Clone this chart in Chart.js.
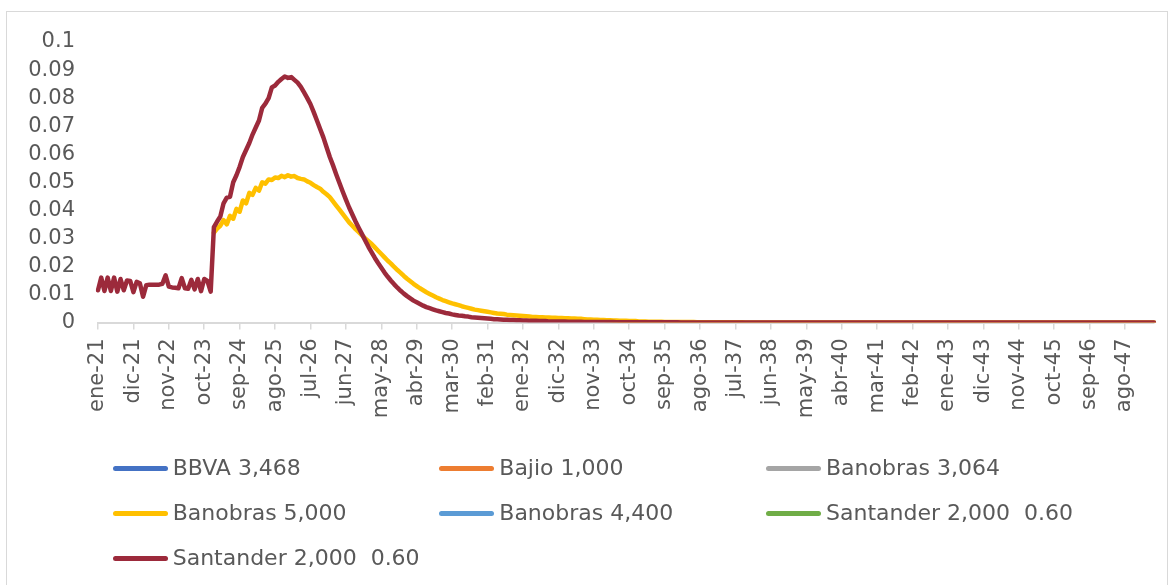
<!DOCTYPE html>
<html>
<head>
<meta charset="utf-8">
<script src="https://cdn.jsdelivr.net/npm/chart.js@4.4.1/dist/chart.umd.min.js"></script>
<style>
  html, body { margin: 0; padding: 0; background: #ffffff; }
  #wrap { position: relative; width: 1175px; height: 585px; overflow: hidden; background: #fff; }
  #frame { position: absolute; left: 6px; top: 11px; width: 1162px; height: 620px; border: 1.5px solid #d9d9d9; box-sizing: border-box; }
  #c { position: absolute; left: 0; top: 0; }
  .lg-item { position: absolute; height: 30px; display: flex; align-items: center; white-space: pre;
             font-family: "DejaVu Sans", sans-serif; font-size: 22px; color: #595959; line-height: 30px; }
  .lg-swatch { display: inline-block; width: 55px; height: 5px; border-radius: 3px; margin-right: 5px; }
</style>
</head>
<body>
<div id="wrap">
  <div id="frame"></div>
  <canvas id="c" width="1175" height="585"></canvas>
</div>
<script>
// ---- Data ----
const MONTHS = ["ene","feb","mar","abr","may","jun","jul","ago","sep","oct","nov","dic"];
const START_YEAR = 21;
const N_POINTS = 329; // ene-21 .. may-48
const LABEL_EVERY = 11;

const SERIES_NAMES = ["BBVA 3,468","Bajio 1,000","Banobras 3,064","Banobras 5,000","Banobras 4,400","Santander 2,000  0.60","Santander 2,000  0.60"];
const SERIES_COLORS = ["#4472C4","#ED7D31","#A5A5A5","#FFC000","#5B9BD5","#70AD47","#9C2A3B"];

const bbva = [];
const bajio = [];
const banobras3064 = [];
const banobras4400 = [];
const santanderGreen = [];

const banobras5000 = [
null,null,null,null,null,null,null,null,null,null,
null,null,null,null,null,null,null,null,null,null,
null,null,null,null,null,null,null,null,null,null,
null,null,null,null,null,null,0.032,0.0335,0.0345,0.0365,
0.035,0.038,0.037,0.0405,0.0395,0.0435,0.0425,0.0462,0.0455,0.048,
0.047,0.050,0.0495,0.051,0.0508,0.0517,0.0515,0.0523,0.0518,0.0525,
0.052,0.0522,0.0515,0.0512,0.051,0.0503,0.0498,0.049,0.0483,0.0477,
0.0466,0.0457,0.0447,0.0432,0.0417,0.0402,0.0387,0.0372,0.0357,0.0345,
0.0333,0.0322,0.0311,0.030,0.029,0.028,0.0268,0.0256,0.0244,0.0232,
0.022,0.021,0.0198,0.0187,0.0177,0.0166,0.0156,0.0147,0.0138,0.013,
0.0122,0.0115,0.0108,0.0102,0.0096,0.009,0.0085,0.008,0.0076,0.0072,
0.0068,0.0065,0.0062,0.0058,0.0055,0.0052,0.0049,0.0046,0.0044,0.0042,
0.004,0.0038,0.0036,0.0034,0.0032,0.0031,0.003,0.0028,0.0027,0.0026,
0.0025,0.0024,0.0023,0.0022,0.0021,0.002,0.002,0.0019,0.0019,0.0018,
0.0018,0.0017,0.0017,0.0016,0.0016,0.0015,0.0015,0.0014,0.0014,0.0013,
0.0013,0.0012,0.0011,0.0011,0.001,0.001,0.0009,0.0009,0.0008,0.0008,
0.0007,0.0007,0.0006,0.0006,0.0006,0.0005,0.0005,0.0005,0.0004,0.0004,
0.0004,0.0003,0.0003,0.0003,0.0003,0.0003,0.0002,0.0002,0.0002,0.0002,
0.0002,0.0002,0.0002,0.0002,0.0002,0.0002,0.0001,0.0001,0.0001,0.0001,
0.0001,0.0001,0.0001,0.0001,0.0001,0.0001,0.0001,0.0001,0.0001,0.0001,
0.0001,0,0,0,0,0,0,0,0,0,
0,0,0,0,0,0,0,0,0,0,
0,0,0,0,0,0,0,0,0,0,
0,0,0,0,0,0,0,0,0,0,
0,0,0,0,0,0,0,0,0,0,
0,0,0,0,0,0,0,0,0,0,
0,0,0,0,0,0,0,0,0,0,
0,0,0,0,0,0,0,0,0,0,
0,0,0,0,0,0,0,0,0,0,
0,0,0,0,0,0,0,0,0,0,
0,0,0,0,0,0,0,0,0,0,
0,0,0,0,0,0,0,0,0,0,
0,0,0,0,0,0,0,0,0
];

const santanderRed = [
0.0115,0.016,0.0112,0.016,0.0112,0.016,0.011,0.0155,0.0115,0.015,
0.0148,0.0108,0.0145,0.014,0.0092,0.0133,0.0135,0.0135,0.0135,0.0135,
0.0138,0.0168,0.0128,0.0125,0.0124,0.0122,0.0158,0.0122,0.012,0.0152,
0.0118,0.0155,0.0112,0.0155,0.0148,0.011,0.034,0.036,0.0378,0.0425,
0.0445,0.0448,0.050,0.0525,0.0555,0.059,0.0615,0.064,0.067,0.0695,
0.072,0.0765,0.078,0.080,0.0838,0.0845,0.0858,0.0868,0.0877,0.0872,
0.0875,0.0865,0.0855,0.084,0.082,0.080,0.0778,0.075,0.072,0.069,
0.066,0.0625,0.059,0.056,0.0528,0.0497,0.0467,0.0438,0.041,0.0385,
0.036,0.0337,0.0315,0.0292,0.027,0.025,0.023,0.0212,0.0195,0.0178,
0.0163,0.0149,0.0136,0.0124,0.0113,0.0103,0.0094,0.0086,0.0078,0.0072,
0.0066,0.006,0.0055,0.0051,0.0047,0.0043,0.004,0.0037,0.0034,0.0032,
0.0029,0.0027,0.0025,0.0024,0.0022,0.0021,0.0019,0.0018,0.0017,0.0016,
0.0015,0.0014,0.0013,0.0012,0.0012,0.0011,0.001,0.001,0.0009,0.0009,
0.0008,0.0008,0.0007,0.0007,0.0006,0.0006,0.0006,0.0005,0.0005,0.0005,
0.0004,0.0004,0.0004,0.0004,0.0004,0.0004,0.0003,0.0003,0.0003,0.0003,
0.0003,0.0002,0.0002,0.0002,0.0002,0.0002,0.0002,0.0002,0.0002,0.0002,
0.0002,0.0001,0.0001,0.0001,0.0001,0.0001,0.0001,0.0001,0.0001,0.0001,
0.0001,0.0001,0.0001,0.0001,0.0001,0.0001,0.0001,0.0001,0.0001,0.0001,
0.0001,0,0,0,0,0,0,0,0,0,
0,0,0,0,0,0,0,0,0,0,
0,0,0,0,0,0,0,0,0,0,
0,0,0,0,0,0,0,0,0,0,
0,0,0,0,0,0,0,0,0,0,
0,0,0,0,0,0,0,0,0,0,
0,0,0,0,0,0,0,0,0,0,
0,0,0,0,0,0,0,0,0,0,
0,0,0,0,0,0,0,0,0,0,
0,0,0,0,0,0,0,0,0,0,
0,0,0,0,0,0,0,0,0,0,
0,0,0,0,0,0,0,0,0,0,
0,0,0,0,0,0,0,0,0,0,
0,0,0,0,0,0,0,0,0,0,
0,0,0,0,0,0,0,0,0
];

const Y_TICKS = [0,0.01,0.02,0.03,0.04,0.05,0.06,0.07,0.08,0.09,0.1];

// category labels (months)
const categories = [];
for (let i = 0; i < N_POINTS; i++) {
  const m = i % 12, y = START_YEAR + Math.floor(i / 12);
  categories.push(MONTHS[m] + "-" + y);
}

const SERIES_DATA = [bbva, bajio, banobras3064, banobras5000, banobras4400, santanderGreen, santanderRed];

// ---- Chart ----
const FONT = '"DejaVu Sans", sans-serif';
const TEXT = '#595959';
const AXIS = '#d9d9d9';

const datasets = SERIES_NAMES.map((name, i) => ({
  label: name,
  data: SERIES_DATA[i],
  borderColor: SERIES_COLORS[i],
  backgroundColor: SERIES_COLORS[i],
  borderWidth: 4.5,
  pointRadius: 0,
  pointHoverRadius: 0,
  tension: 0,
  fill: false,
  spanGaps: false,
  borderCapStyle: 'round',
  borderJoinStyle: 'round',
  order: i === 6 ? 0 : (10 - i)
}));

const chart = new Chart(document.getElementById('c'), {
  type: 'line',
  data: { labels: categories, datasets },
  options: {
    responsive: false,
    animation: false,
    devicePixelRatio: 1,
    layout: { padding: { left: 0, right: 21, top: 42, bottom: 0 } },
    plugins: { legend: { display: false }, tooltip: { enabled: false } },
    scales: {
      x: {
        type: 'category',
        offset: false,
        afterFit: s => { s.height = 585 - 322.5; s.paddingRight = 0; s.paddingLeft = 0; },
        border: { display: true, color: AXIS, width: 2 },
        grid: {
          drawOnChartArea: false,
          drawTicks: true,
          tickLength: 7,
          lineWidth: 1.5,
          color: ctx => (ctx.index % LABEL_EVERY === 0 ? AXIS : 'rgba(0,0,0,0)')
        },
        ticks: {
          autoSkip: false,
          maxRotation: 90,
          minRotation: 90,
          padding: 9,
          color: TEXT,
          font: { family: FONT, size: 21 },
          callback: (v, idx) => (idx % LABEL_EVERY === 0 ? categories[idx] : '')
        }
      },
      y: {
        min: 0,
        max: 0.1,
        afterFit: s => { s.width = 98; },
        afterBuildTicks: s => { s.ticks = Y_TICKS.map(v => ({ value: v })); },
        border: { display: false },
        grid: { display: false, drawTicks: false },
        ticks: {
          autoSkip: false,
          padding: 23,
          color: TEXT,
          font: { family: FONT, size: 21 },
          callback: v => String(+(+v).toFixed(2))
        }
      }
    }
  }
});

// ---- HTML legend (3-column grid like the original) ----
const wrap = document.getElementById('wrap');
const COLS_X = [112.7, 439.3, 766];
const ROWS_Y = [468.3, 513.3, 558.3];
chart.data.datasets.forEach((ds, i) => {
  const item = document.createElement('div');
  item.className = 'lg-item';
  item.style.left = COLS_X[i % 3] + 'px';
  item.style.top = (ROWS_Y[Math.floor(i / 3)] - 15) + 'px';
  const sw = document.createElement('span');
  sw.className = 'lg-swatch';
  sw.style.background = ds.borderColor;
  const tx = document.createElement('span');
  tx.textContent = ds.label;
  item.appendChild(sw);
  item.appendChild(tx);
  wrap.appendChild(item);
});
</script>
</body>
</html>
